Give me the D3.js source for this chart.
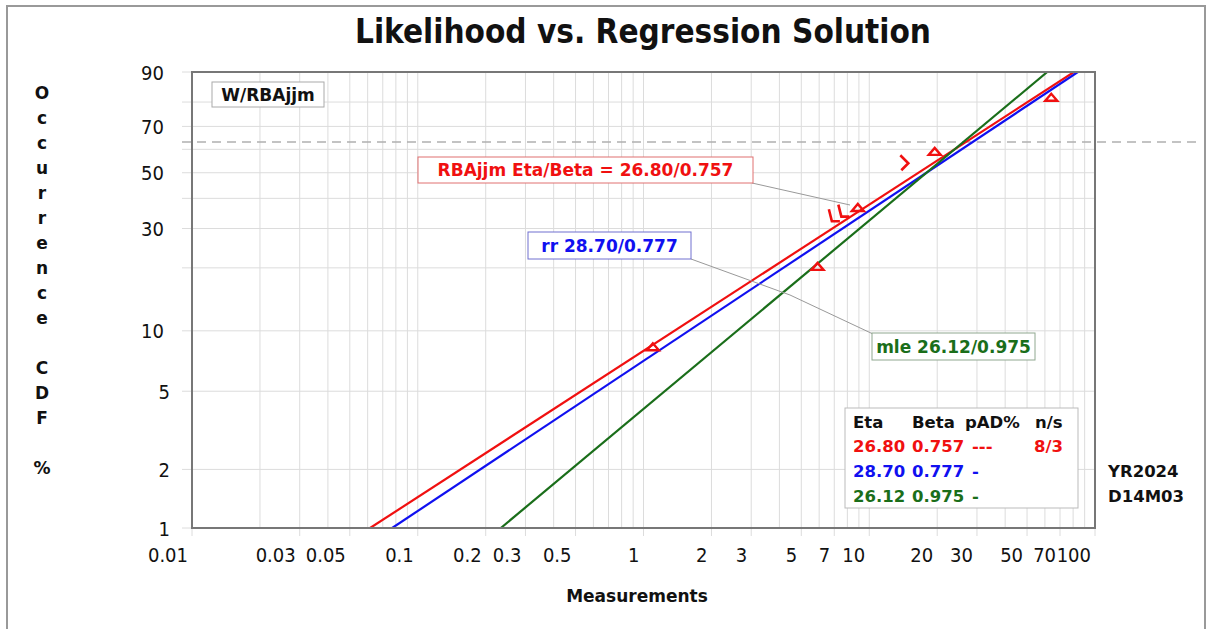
<!DOCTYPE html>
<html>
<head>
<meta charset="utf-8">
<script src="https://cdn.jsdelivr.net/npm/d3@7"></script>
<style>
  body { margin: 0; background: #fff; }
  svg { display: block; }
  .tick-lbl { font-family: 'DejaVu Sans Condensed', 'DejaVu Sans', sans-serif; font-size: 20px; fill: #111; }
  .bold { font-family: 'DejaVu Sans', Verdana, sans-serif; font-weight: bold; }
</style>
</head>
<body>
<svg id="chart" width="1211" height="629"></svg>
<script>
// axis ticks
var xTickVals = [0.01, 0.03, 0.05, 0.1, 0.2, 0.3, 0.5, 1, 2, 3, 5, 7, 10, 20, 30, 50, 70, 100];
var yTickVals = [1, 2, 5, 10, 30, 50, 70, 90];
var yGridVals = [1, 2, 5, 10, 20, 30, 40, 50, 60, 70, 80, 90];

// fitted Weibull solutions
var fitNames = ['RBAjjm', 'rr', 'mle'];
var fitEta = [26.80, 28.70, 26.12];
var fitBeta = [0.757, 0.777, 0.975];
var fitLabels = ['RBAjjm Eta/Beta = 26.80/0.757', 'rr 28.70/0.777', 'mle 26.12/0.975'];
var fitPad = ['---', '-', '-'];
var fitNS = ['8/3', '', ''];

// data points (failures and suspensions), x in measurement units, F in %
var failX = [1.10, 5.9, 8.9, 19.5, 64];
var failF = [8.3, 20.2, 36.6, 58.9, 81.6];
var suspX = [6.9, 7.6, 14.3];
var suspF = [33.5, 35.0, 54.0];

var colors = ['#f01010', '#1010f0', '#1a6e1a'];

var svg = d3.select('#chart');

// Weibull probability transform
function wb(pct) { var F = pct / 100; return Math.log(-Math.log(1 - F)); }

var pL = 192, pR = 1095, pT = 72, pB = 528;
var xScale = d3.scaleLog().domain([0.01, 100]).range([pL, pR]);
var wScale = d3.scaleLinear().domain([wb(1), wb(90)]).range([pB, pT]);
function yPos(pct) { return wScale(wb(pct)); }

// outer frame
svg.append('rect').attr('x', 7).attr('y', 6).attr('width', 1198).attr('height', 640)
  .attr('fill', 'none').attr('stroke', '#999').attr('stroke-width', 2);

// title
svg.append('text').attr('class', 'bold').attr('x', 643).attr('y', 43)
  .attr('text-anchor', 'middle').style('font-size', '33px')
  .style('font-family', "'DejaVu Sans Condensed','DejaVu Sans',sans-serif")
  .attr('fill', '#111')
  .text('Likelihood vs. Regression Solution');

// grid
var grid = svg.append('g');
var minor = xScale.ticks();
grid.selectAll('.vg').data(minor).enter().append('line')
  .attr('x1', function(d) { return xScale(d); }).attr('x2', function(d) { return xScale(d); })
  .attr('y1', pT).attr('y2', function(d) { return xTickVals.indexOf(d) >= 0 ? pB + 8 : pB; })
  .attr('stroke', '#dcdcdc').attr('stroke-width', 1);
grid.selectAll('.hg').data(yGridVals).enter().append('line')
  .attr('x1', pL - 10).attr('x2', pR)
  .attr('y1', function(d) { return yPos(d); }).attr('y2', function(d) { return yPos(d); })
  .attr('stroke', '#dcdcdc').attr('stroke-width', 1);

// 63.2% dashed characteristic line
svg.append('line').attr('x1', pL - 10).attr('x2', 1200)
  .attr('y1', yPos(63.2)).attr('y2', yPos(63.2))
  .attr('stroke', '#b0b0b0').attr('stroke-width', 1.3).attr('stroke-dasharray', '9,6');

// x tick labels (right-aligned to tick)
svg.selectAll('.xl').data(xTickVals).enter().append('text')
  .attr('class', 'tick-lbl').attr('text-anchor', 'end')
  .attr('x', function(d) { return xScale(d) - 4; }).attr('y', 562)
  .text(function(d) { return d; });

// y tick labels
svg.selectAll('.yl').data(yTickVals).enter().append('text')
  .attr('class', 'tick-lbl').attr('text-anchor', 'end')
  .attr('x', function(d) { return d < 10 ? 170 : 164; })
  .attr('y', function(d) { return yPos(d) + 7.5; })
  .text(function(d) { return d; });

// plot area
var clip = svg.append('clipPath').attr('id', 'clip');
clip.append('rect').attr('x', pL).attr('y', pT).attr('width', pR - pL).attr('height', pB - pT);

var lineGen = d3.line().x(function(d) { return xScale(d[0]); }).y(function(d) { return yPos(d[1]); });
var fits = svg.append('g').attr('clip-path', 'url(#clip)');
fitNames.forEach(function(name, i) {
  var pts = [1, 90].map(function(p) { return [fitEta[i] * Math.exp(wb(p) / fitBeta[i]), p]; });
  fits.append('path').datum(pts).attr('d', lineGen)
    .attr('fill', 'none').attr('stroke', colors[i]).attr('stroke-width', 2.2);
});

// failures: open triangles
svg.selectAll('.fail').data(failX).enter().append('path')
  .attr('transform', function(d, i) { return 'translate(' + xScale(d) + ',' + yPos(failF[i]) + ')'; })
  .attr('d', 'M-6,3 L6,3 L0,-4 Z')
  .attr('fill', 'none').attr('stroke', colors[0]).attr('stroke-width', 2.4);

// suspensions
svg.selectAll('.susp').data(suspX).enter().append('path')
  .attr('transform', function(d, i) { return 'translate(' + xScale(d) + ',' + yPos(suspF[i]) + ')'; })
  .attr('d', function(d, i) { return i < 2 ? 'M-4,-8 L-1,4 L7,4' : 'M-4,-8 L4,0 L-3,7'; })
  .attr('fill', 'none').attr('stroke', colors[0]).attr('stroke-width', 2.6);

// plot border
svg.append('rect').attr('x', pL).attr('y', pT).attr('width', pR - pL).attr('height', pB - pT)
  .attr('fill', 'none').attr('stroke', '#777').attr('stroke-width', 2);

// leader lines
var leaders = [
  [[752, 183], [850, 205]],
  [[691, 259], [790, 295]],
  [[873, 334], [790, 295]]
];
leaders.forEach(function(l) {
  svg.append('line').attr('x1', l[0][0]).attr('y1', l[0][1]).attr('x2', l[1][0]).attr('y2', l[1][1])
    .attr('stroke', '#999').attr('stroke-width', 1);
});

// label boxes
function labelBox(x, y, w, h, txt, col, border, size) {
  svg.append('rect').attr('x', x).attr('y', y).attr('width', w).attr('height', h)
    .attr('fill', '#fff').attr('stroke', border).attr('stroke-width', 1);
  svg.append('text').attr('class', 'bold').attr('x', x + w / 2).attr('y', y + h / 2 + 6)
    .attr('text-anchor', 'middle').style('font-size', size + 'px').attr('fill', col).text(txt);
}
labelBox(212, 82, 112, 25, 'W/RBAjjm', '#111', '#aaa', 17);
labelBox(418, 157, 335, 26, fitLabels[0], colors[0], '#e07070', 17);
labelBox(528, 232, 163, 27, fitLabels[1], colors[1], '#7070d0', 17);
labelBox(872, 333, 163, 27, fitLabels[2], colors[2], '#90a890', 17);

// legend
var lg = svg.append('g');
lg.append('rect').attr('x', 845).attr('y', 408).attr('width', 233).attr('height', 100)
  .attr('fill', '#fff').attr('stroke', '#bbb').attr('stroke-width', 1);
var colX = [853, 912, 965, 1035];
['Eta', 'Beta', 'pAD%', 'n/s'].forEach(function(h, j) {
  lg.append('text').attr('class', 'bold').attr('x', colX[j]).attr('y', 428)
    .style('font-size', '16.5px').attr('fill', '#111').text(h);
});
fitNames.forEach(function(name, i) {
  var yy = 452 + i * 25;
  var row = [fitEta[i].toFixed(2), fitBeta[i].toFixed(3), fitPad[i]];
  row.forEach(function(v, j) {
    lg.append('text').attr('class', 'bold').attr('x', [853, 912, 972][j]).attr('y', yy)
      .style('font-size', '16.5px').attr('fill', colors[i]).text(v);
  });
  if (fitNS[i]) {
    lg.append('text').attr('class', 'bold').attr('x', 1063).attr('y', yy).attr('text-anchor', 'end')
      .style('font-size', '16.5px').attr('fill', colors[i]).text(fitNS[i]);
  }
});

// date stamp
svg.append('text').attr('class', 'bold').attr('x', 1108).attr('y', 477)
  .style('font-size', '16.5px').attr('fill', '#111').text('YR2024');
svg.append('text').attr('class', 'bold').attr('x', 1108).attr('y', 502)
  .style('font-size', '16.5px').attr('fill', '#111').text('D14M03');

// y axis title, stacked letters
var yTitle = 'Occurrence CDF %'.split('');
svg.selectAll('.yt').data(yTitle).enter().append('text')
  .attr('class', 'bold').attr('x', 42).attr('text-anchor', 'middle')
  .attr('y', function(d, i) { return 99 + i * 25; })
  .style('font-size', '17px').attr('fill', '#111')
  .text(function(d) { return d; });

// x axis title
svg.append('text').attr('class', 'bold').attr('x', 637).attr('y', 602)
  .attr('text-anchor', 'middle').style('font-size', '17px').attr('fill', '#111')
  .text('Measurements');
</script>
</body>
</html>
